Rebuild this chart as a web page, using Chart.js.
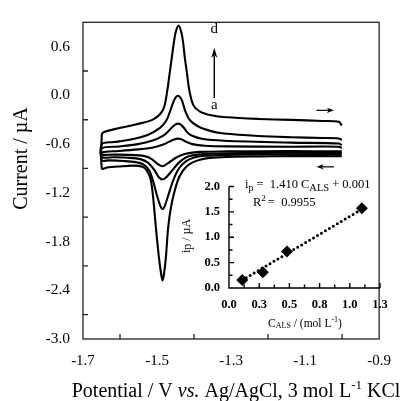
<!DOCTYPE html>
<html><head><meta charset="utf-8">
<script src="https://cdn.jsdelivr.net/npm/chart.js@4.4.1/dist/chart.umd.min.js"></script>
<style>
html,body{margin:0;padding:0;background:#fff;}
#wrap{position:relative;width:404px;height:401px;overflow:hidden;}
#main{position:absolute;left:0;top:0;}
#inset{position:absolute;left:180px;top:170px;}
</style></head><body>
<div id="wrap"><canvas id="main" width="404" height="401"></canvas><canvas id="inset" width="220" height="165"></canvas></div>
<script>
const FONT = "'Liberation Serif','Times New Roman',serif";

// ---- main axis ticks ----
const xTickValues = [-1.7, -1.5, -1.3, -1.1, -0.9];
const xTickLabels = ['-1.7', '-1.5', '-1.3', '-1.1', '-0.9'];
const xMinorTicks = [-1.6, -1.4, -1.2, -1.0];
const yTickValues = [-3.0, -2.4, -1.8, -1.2, -0.6, 0.0, 0.6];
const yTickLabels = ['-3.0', '-2.4', '-1.8', '-1.2', '-0.6', '0.0', '0.6'];
const yMinorTicks = [-2.7, -2.1, -1.5, -0.9, -0.3, 0.3];

// ---- voltammograms: forward (upper) branches left->right, reverse (lower) right->left ----
const aUpper = [[-1.649,-0.70],[-1.604,-0.685],[-1.552,-0.665],[-1.514,-0.645],[-1.483,-0.605],[-1.467,-0.57],[-1.454,-0.542],[-1.444,-0.532],[-1.433,-0.542],[-1.420,-0.575],[-1.405,-0.60],[-1.371,-0.62],[-1.312,-0.628],[-1.138,-0.632],[-1.009,-0.632],[-1.001,-0.648]];
const aLower = [[-1.001,-0.69],[-1.138,-0.686],[-1.312,-0.69],[-1.384,-0.696],[-1.423,-0.72],[-1.449,-0.768],[-1.470,-0.834],[-1.485,-0.872],[-1.498,-0.845],[-1.514,-0.785],[-1.534,-0.748],[-1.578,-0.732],[-1.617,-0.73],[-1.649,-0.73]];
const bUpper = [[-1.649,-0.65],[-1.604,-0.63],[-1.552,-0.60],[-1.514,-0.56],[-1.483,-0.495],[-1.470,-0.445],[-1.460,-0.395],[-1.451,-0.36],[-1.443,-0.348],[-1.436,-0.36],[-1.427,-0.402],[-1.418,-0.456],[-1.405,-0.498],[-1.379,-0.534],[-1.319,-0.558],[-1.138,-0.582],[-1.009,-0.592],[-1.001,-0.612]];
const bLower = [[-1.001,-0.71],[-1.138,-0.706],[-1.312,-0.712],[-1.384,-0.726],[-1.418,-0.756],[-1.441,-0.828],[-1.459,-0.924],[-1.475,-1.008],[-1.485,-1.035],[-1.495,-1.008],[-1.508,-0.915],[-1.524,-0.83],[-1.545,-0.785],[-1.578,-0.768],[-1.617,-0.762],[-1.649,-0.76]];
const cUpper = [[-1.649,-0.60],[-1.617,-0.575],[-1.578,-0.55],[-1.527,-0.49],[-1.492,-0.40],[-1.475,-0.31],[-1.462,-0.16],[-1.453,-0.05],[-1.443,-0.005],[-1.433,-0.06],[-1.424,-0.19],[-1.412,-0.30],[-1.390,-0.38],[-1.354,-0.44],[-1.319,-0.47],[-1.226,-0.50],[-1.138,-0.515],[-1.053,-0.525],[-1.009,-0.53],[-1.001,-0.55]];
const cLower = [[-1.001,-0.73],[-1.138,-0.726],[-1.312,-0.732],[-1.371,-0.744],[-1.402,-0.768],[-1.423,-0.816],[-1.441,-0.90],[-1.456,-1.044],[-1.470,-1.236],[-1.479,-1.36],[-1.485,-1.40],[-1.491,-1.36],[-1.500,-1.236],[-1.511,-1.05],[-1.521,-0.925],[-1.537,-0.85],[-1.558,-0.822],[-1.591,-0.808],[-1.630,-0.80],[-1.649,-0.80]];
const dUpper = [[-1.649,-0.48],[-1.643,-0.45],[-1.604,-0.404],[-1.552,-0.352],[-1.509,-0.292],[-1.483,-0.17],[-1.472,0.068],[-1.466,0.268],[-1.460,0.468],[-1.454,0.668],[-1.449,0.788],[-1.442,0.86],[-1.435,0.788],[-1.430,0.668],[-1.425,0.468],[-1.419,0.268],[-1.413,0.068],[-1.402,-0.12],[-1.384,-0.2],[-1.354,-0.245],[-1.312,-0.27],[-1.226,-0.29],[-1.138,-0.302],[-1.053,-0.315],[-1.009,-0.325],[-1.001,-0.37]];
const dLower = [[-1.001,-0.75],[-1.053,-0.748],[-1.138,-0.748],[-1.226,-0.752],[-1.312,-0.758],[-1.358,-0.77],[-1.384,-0.792],[-1.405,-0.828],[-1.423,-0.888],[-1.439,-0.996],[-1.451,-1.152],[-1.462,-1.368],[-1.470,-1.632],[-1.476,-1.992],[-1.481,-2.196],[-1.485,-2.28],[-1.489,-2.196],[-1.495,-1.992],[-1.503,-1.632],[-1.510,-1.28],[-1.517,-1.04],[-1.527,-0.93],[-1.539,-0.88],[-1.565,-0.865],[-1.604,-0.876],[-1.635,-0.888],[-1.649,-0.90]];

// ---- main annotations (data units) ----
const labelMarks = [{text:'d', x:-1.3453, y:0.77}, {text:'a', x:-1.3453, y:-0.165}];
const arrowMarks = [
  {x1:-1.3453, y1:-0.032, x2:-1.3453, y2:0.588, head:10, hw:3, lw:1.4},
  {x1:-1.069, y1:-0.184, x2:-1.022, y2:-0.184, head:7, hw:2.6, lw:1.2},
  {x1:-1.022, y1:-0.88, x2:-1.069, y2:-0.88, head:7, hw:2.6, lw:1.2}
];

// ---- inset: calibration ----
const insetC = [0.11, 0.28, 0.48, 1.10];
const insetIp = [0.16, 0.31, 0.72, 1.57];
const trendC = [0.11, 1.10];
const trendIp = [0.156, 1.552];
const insetXTickValues = [0, 0.25, 0.5, 0.75, 1.0, 1.25];
const insetXTickLabels = ['0.0', '0.3', '0.5', '0.8', '1.0', '1.3'];
const insetYTickValues = [0, 0.5, 1.0, 1.5, 2.0];
const insetYTickLabels = ['0.0', '0.5', '1.0', '1.5', '2.0'];
const insetXMinor = [0.125, 0.375, 0.625, 0.875, 1.125];
const insetYMinor = [0.25, 0.75, 1.25, 1.75];

const toPts = arr => arr.map(([x, y]) => ({x, y}));
function cvDataset(lower, upper) {
  return {data: toPts(lower.concat(upper)), showLine: true, pointRadius: 0, borderColor: '#000',
          borderWidth: 2.1, tension: 0.3, fill: false, borderJoinStyle: 'round'};
}

function drawRuns(ctx, runs, x, y, align) {
  let total = 0;
  runs.forEach(r => { ctx.font = (r.style || '') + ' ' + r.size + 'px ' + FONT; r.w = ctx.measureText(r.t).width; total += r.w + (r.gap || 0); });
  let cx = align === 'center' ? x - total / 2 : x;
  ctx.textAlign = 'left';
  runs.forEach(r => {
    ctx.font = (r.style || '') + ' ' + r.size + 'px ' + FONT;
    ctx.fillText(r.t, cx, y + (r.dy || 0));
    cx += r.w + (r.gap || 0);
  });
}

function arrow(ctx, x1, y1, x2, y2, head, hw, lw) {
  const ang = Math.atan2(y2 - y1, x2 - x1);
  const bx = x2 - head * Math.cos(ang), by = y2 - head * Math.sin(ang);
  ctx.lineWidth = lw;
  ctx.beginPath(); ctx.moveTo(x1, y1); ctx.lineTo(bx + Math.cos(ang) * 2, by + Math.sin(ang) * 2); ctx.stroke();
  ctx.beginPath();
  ctx.moveTo(x2, y2);
  ctx.lineTo(bx - hw * Math.sin(ang), by + hw * Math.cos(ang));
  ctx.lineTo(bx + head * 0.25 * Math.cos(ang), by + head * 0.25 * Math.sin(ang));
  ctx.lineTo(bx + hw * Math.sin(ang), by - hw * Math.cos(ang));
  ctx.closePath(); ctx.fill();
}

const mainDeco = {
  id: 'mainDeco',
  afterDraw(chart) {
    const {ctx, chartArea: a, scales: {x, y}} = chart;
    ctx.save();
    ctx.strokeStyle = '#222'; ctx.fillStyle = '#000'; ctx.lineWidth = 1.3;
    ctx.strokeRect(a.left, a.top, a.right - a.left, a.bottom - a.top);
    ctx.beginPath();
    xMinorTicks.forEach(v => { const p = x.getPixelForValue(v); ctx.moveTo(p, a.bottom); ctx.lineTo(p, a.bottom - 5); });
    yMinorTicks.forEach(v => { const p = y.getPixelForValue(v); ctx.moveTo(a.left, p); ctx.lineTo(a.left + 5, p); });
    ctx.stroke();
    ctx.strokeStyle = '#000';
    arrowMarks.forEach(m => arrow(ctx, x.getPixelForValue(m.x1), y.getPixelForValue(m.y1), x.getPixelForValue(m.x2), y.getPixelForValue(m.y2), m.head, m.hw, m.lw));
    ctx.font = '15px ' + FONT; ctx.textAlign = 'center'; ctx.textBaseline = 'alphabetic';
    labelMarks.forEach(m => ctx.fillText(m.text, x.getPixelForValue(m.x), y.getPixelForValue(m.y)));
    ctx.save();
    ctx.translate(22, 158.5); ctx.rotate(-Math.PI / 2);
    ctx.font = '20px ' + FONT; ctx.textAlign = 'center'; ctx.textBaseline = 'middle';
    ctx.fillText('Current / µA', 0, 0);
    ctx.restore();
    ctx.textBaseline = 'alphabetic';
    drawRuns(ctx, [
      {t: 'Potential / V ', size: 20},
      {t: 'vs.', size: 20, style: 'italic'},
      {t: ' Ag/AgCl, 3 mol L', size: 20},
      {t: '-1', size: 13, dy: -8},
      {t: ' KCl', size: 20}
    ], 236, 397, 'center');
    ctx.restore();
  }
};

new Chart(document.getElementById('main'), {
  type: 'scatter',
  data: {datasets: [cvDataset(aLower, aUpper), cvDataset(bLower, bUpper), cvDataset(cLower, cUpper), cvDataset(dLower, dUpper)]},
  options: {
    responsive: false, animation: false, devicePixelRatio: 1,
    layout: {padding: {top: 14, right: 12, left: 0, bottom: 0}},
    plugins: {legend: {display: false}, tooltip: {enabled: false}},
    scales: {
      x: {
        type: 'linear', min: -1.7, max: -0.9,
        afterBuildTicks: s => { s.ticks = xTickValues.map(v => ({value: v})); },
        afterFit: s => { s.height = 62; },
        ticks: {callback: (v, i) => xTickLabels[i], font: {family: FONT, size: 15}, color: '#000', padding: 13, maxRotation: 0, autoSkip: false},
        grid: {display: false, drawTicks: false}, border: {display: false}
      },
      y: {
        type: 'linear', min: -3.0, max: 0.9,
        afterBuildTicks: s => { s.ticks = yTickValues.map(v => ({value: v})); },
        afterFit: s => { s.width = 83; },
        ticks: {callback: (v, i) => yTickLabels[i], font: {family: FONT, size: 15.5}, color: '#000', padding: 13, autoSkip: false},
        grid: {display: false, drawTicks: false}, border: {display: false}
      }
    }
  },
  plugins: [mainDeco]
});

const insetDeco = {
  id: 'insetDeco',
  afterDraw(chart) {
    const {ctx, chartArea: a, scales: {x, y}} = chart;
    ctx.save();
    ctx.strokeStyle = '#000'; ctx.fillStyle = '#000'; ctx.lineWidth = 1.4;
    ctx.beginPath();
    ctx.moveTo(a.left, y.getPixelForValue(2.0)); ctx.lineTo(a.left, a.bottom); ctx.lineTo(x.getPixelForValue(1.25), a.bottom);
    insetYTickValues.forEach(v => { const p = y.getPixelForValue(v); ctx.moveTo(a.left, p); ctx.lineTo(a.left + 5, p); });
    insetYMinor.forEach(v => { const p = y.getPixelForValue(v); ctx.moveTo(a.left, p); ctx.lineTo(a.left + 3.5, p); });
    insetXTickValues.forEach(v => { const p = x.getPixelForValue(v); ctx.moveTo(p, a.bottom); ctx.lineTo(p, a.bottom - 5); });
    insetXMinor.forEach(v => { const p = x.getPixelForValue(v); ctx.moveTo(p, a.bottom); ctx.lineTo(p, a.bottom - 3.5); });
    ctx.stroke();
    ctx.textBaseline = 'alphabetic';
    drawRuns(ctx, [
      {t: 'i', size: 12.5}, {t: 'p', size: 10, dy: 3, gap: 3},
      {t: '=  1.410 C', size: 12.5}, {t: 'ALS', size: 10.5, dy: 3, gap: 3},
      {t: '+ 0.001', size: 12.5}
    ], 65, 18, 'left');
    drawRuns(ctx, [
      {t: 'R', size: 12.5}, {t: '2', size: 9, dy: -5, gap: 2},
      {t: '=  0.9955', size: 12.5}
    ], 73, 36, 'left');
    drawRuns(ctx, [
      {t: 'C', size: 11.5}, {t: 'ALS', size: 8, dy: 1},
      {t: ' / (mol L', size: 11.5}, {t: '-1', size: 8, dy: -5}, {t: ')', size: 11.5}
    ], 125, 157, 'center');
    ctx.save();
    ctx.translate(7, 66); ctx.rotate(-Math.PI / 2);
    ctx.textBaseline = 'middle';
    drawRuns(ctx, [{t: 'i', size: 12}, {t: 'p', size: 12, dy: 1}, {t: ' / µA', size: 12}], 0, 0, 'center');
    ctx.restore();
    ctx.restore();
  }
};

new Chart(document.getElementById('inset'), {
  type: 'scatter',
  data: {datasets: [
    {data: insetC.map((c, i) => ({x: c, y: insetIp[i]})), pointStyle: 'rectRot', pointRadius: 6,
     backgroundColor: '#000', borderColor: '#000', borderWidth: 0, showLine: false},
    {data: trendC.map((c, i) => ({x: c, y: trendIp[i]})), showLine: true, pointRadius: 0, borderColor: '#000',
     borderWidth: 3, borderDash: [0, 4.6], borderCapStyle: 'round', fill: false}
  ]},
  options: {
    responsive: false, animation: false, devicePixelRatio: 1,
    layout: {padding: {top: 11.5, right: 20, left: 0, bottom: 0}},
    plugins: {legend: {display: false}, tooltip: {enabled: false}},
    scales: {
      x: {
        type: 'linear', min: 0, max: 1.25,
        afterBuildTicks: s => { s.ticks = insetXTickValues.map(v => ({value: v})); },
        afterFit: s => { s.height = 47; },
        ticks: {callback: (v, i) => insetXTickLabels[i], font: {family: FONT, size: 12.5, weight: 'bold'}, color: '#000', padding: 9, maxRotation: 0, autoSkip: false},
        grid: {display: false, drawTicks: false}, border: {display: false}
      },
      y: {
        type: 'linear', min: 0, max: 2.0,
        afterBuildTicks: s => { s.ticks = insetYTickValues.map(v => ({value: v})); },
        afterFit: s => { s.width = 49; },
        ticks: {callback: (v, i) => insetYTickLabels[i], font: {family: FONT, size: 12.5, weight: 'bold'}, color: '#000', padding: 9, autoSkip: false},
        grid: {display: false, drawTicks: false}, border: {display: false}
      }
    }
  },
  plugins: [insetDeco]
});
</script>
</body></html>
